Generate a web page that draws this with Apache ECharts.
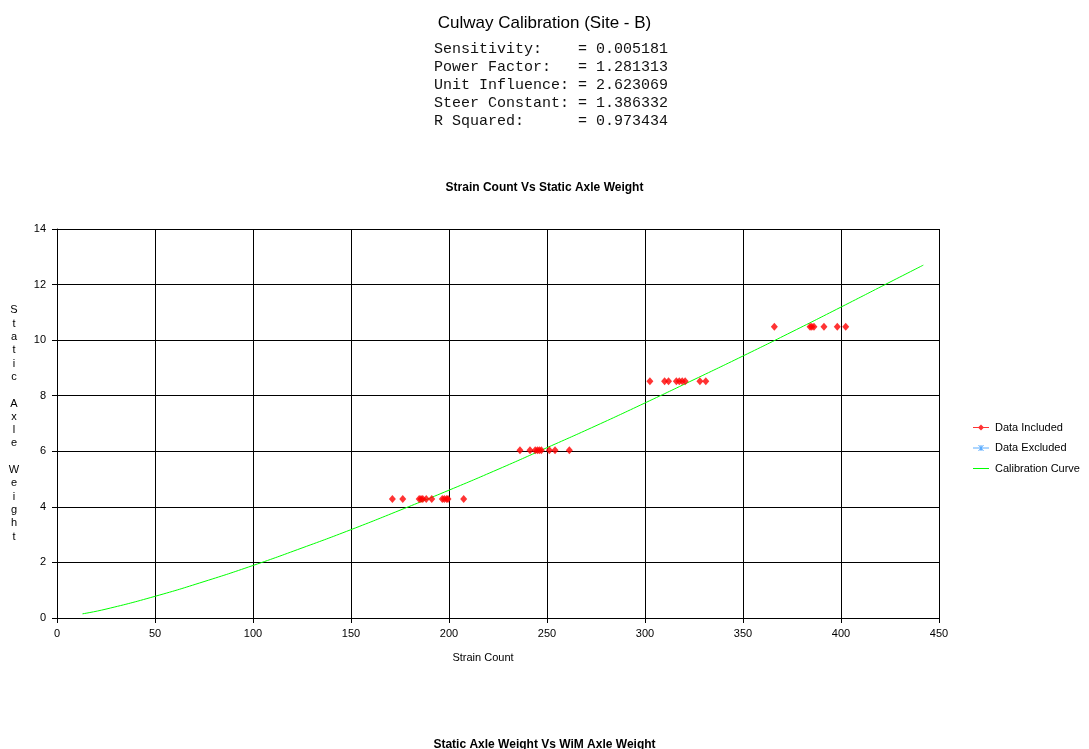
<!DOCTYPE html>
<html>
<head>
<meta charset="utf-8">
<title>Culway Calibration (Site - B)</title>
<script src="https://cdn.jsdelivr.net/npm/echarts@6/dist/echarts.min.js"></script>
<style>
  html, body { margin: 0; padding: 0; background: #ffffff; }
  #chart { width: 1089px; height: 749px; }
</style>
</head>
<body>
<div id="chart"></div>
<script>
// Calibration summary
const pageTitle = 'Culway Calibration (Site - B)';
const statLines = [
  'Sensitivity:    = 0.005181',
  'Power Factor:   = 1.281313',
  'Unit Influence: = 2.623069',
  'Steer Constant: = 1.386332',
  'R Squared:      = 0.973434'
];
const chartTitle = 'Strain Count Vs Static Axle Weight';
const nextChartTitle = 'Static Axle Weight Vs WiM Axle Weight';

// Axis ticks
const xTicks = [0, 50, 100, 150, 200, 250, 300, 350, 400, 450];
const yTicks = [0, 2, 4, 6, 8, 10, 12, 14];

// Included data: strain counts grouped by static axle weight
const weightLight = 4.28;
const countsLight = [171.1, 176.4, 184.8, 185.7, 186.6, 188.4, 191.2, 196.6, 197.6, 198.8, 199.5, 207.5];
const weightMid = 6.04;
const countsMid = [236.2, 241.3, 244.0, 245.1, 246.1, 247.1, 251.2, 254.1, 261.4];
const weightHeavy = 8.52;
const countsHeavy = [302.5, 310.0, 312.0, 316.0, 317.5, 319.0, 320.5, 328.0, 331.0];
const weightMax = 10.48;
const countsMax = [366.0, 384.2, 385.1, 386.2, 391.3, 398.1, 402.4];

// Excluded data (none)
const excludedCounts = [];
const excludedWeights = [];

// Calibration curve samples
const curveCounts = [13, 25, 50, 75, 100, 125, 150, 175, 200, 225, 250, 275, 300, 325, 350, 375, 400, 425, 442];
const curveWeights = [0.15, 0.32, 0.78, 1.31, 1.89, 2.52, 3.18, 3.88, 4.60, 5.35, 6.13, 6.92, 7.74, 8.58, 9.43, 10.30, 11.19, 12.09, 12.70];

const includedData = []
  .concat(countsLight.map(c => [c, weightLight]))
  .concat(countsMid.map(c => [c, weightMid]))
  .concat(countsHeavy.map(c => [c, weightHeavy]))
  .concat(countsMax.map(c => [c, weightMax]));
const excludedData = excludedCounts.map((c, i) => [c, excludedWeights[i]]);
const curveData = curveCounts.map((c, i) => [c, curveWeights[i]]);

const sans = 'Liberation Sans, Arial, sans-serif';
const mono = 'Liberation Mono, Courier New, monospace';

// Legend icons: a short line with the series marker on it
const iconIncluded = 'path://M0,2.5L16,2.5L16,3.5L0,3.5Z M8,0L11,3L8,6L5,3Z';
const iconExcluded = 'path://M0,2.5L16,2.5L16,3.5L0,3.5Z M5,0L6,0L11,6L10,6Z M10,0L11,0L6,6L5,6Z M7.5,0L8.5,0L8.5,6L7.5,6Z';
const iconCurve = 'path://M0,0L0,0Z M0,6L0,6Z M0,2.5L16,2.5L16,3.5L0,3.5Z';

const chart = echarts.init(document.getElementById('chart'), null, { renderer: 'canvas' });

chart.setOption({
  backgroundColor: '#ffffff',
  animation: false,
  title: [
    {
      text: pageTitle, left: 'center', top: 10,
      textStyle: { fontFamily: sans, fontSize: 17, fontWeight: 'normal', color: '#000' }
    },
    {
      text: statLines.join('\n'), left: 429, top: 35,
      textStyle: { fontFamily: mono, fontSize: 15, fontWeight: 'normal', color: '#111', lineHeight: 18 }
    },
    {
      text: chartTitle, left: 'center', top: 177,
      textStyle: { fontFamily: sans, fontSize: 12, fontWeight: 'bold', color: '#000' }
    },
    {
      text: nextChartTitle, left: 'center', top: 734,
      textStyle: { fontFamily: sans, fontSize: 12, fontWeight: 'bold', color: '#000' }
    }
  ],
  legend: {
    orient: 'vertical',
    left: 968,
    top: 417,
    itemWidth: 16,
    itemHeight: 6,
    itemGap: 9.5,
    symbolKeepAspect: true,
    textStyle: { fontFamily: sans, fontSize: 11, color: '#000', padding: [0, 0, 0, 1] },
    data: [
      { name: 'Data Included', icon: iconIncluded },
      { name: 'Data Excluded', icon: iconExcluded },
      { name: 'Calibration Curve', icon: iconCurve }
    ]
  },
  grid: { left: 57, right: 150, top: 229, bottom: 131, containLabel: false },
  xAxis: {
    type: 'value',
    min: xTicks[0],
    max: xTicks[xTicks.length - 1],
    interval: xTicks[1] - xTicks[0],
    name: 'Strain Count',
    nameLocation: 'middle',
    nameGap: 34,
    nameTextStyle: { fontFamily: sans, fontSize: 11, color: '#000', padding: [0, 30, 0, 0] },
    axisLine: { show: true, onZero: false, lineStyle: { color: '#000', width: 1 } },
    axisTick: { show: true, length: 5, lineStyle: { color: '#000' } },
    axisLabel: { fontFamily: sans, fontSize: 11, color: '#000', margin: 10 },
    splitLine: { show: true, lineStyle: { color: '#000', width: 1 } }
  },
  yAxis: {
    type: 'value',
    min: yTicks[0],
    max: yTicks[yTicks.length - 1],
    interval: yTicks[1] - yTicks[0],
    name: 'Static Axle Weight'.split('').map(ch => ch === ' ' ? '' : ch).join('\n'),
    nameLocation: 'middle',
    nameRotate: 0,
    nameGap: 43,
    nameTextStyle: { fontFamily: sans, fontSize: 11, color: '#000', lineHeight: 13.3, align: 'center', verticalAlign: 'middle' },
    axisLine: { show: true, onZero: false, lineStyle: { color: '#000', width: 1 } },
    axisTick: { show: true, length: 5, lineStyle: { color: '#000' } },
    axisLabel: { fontFamily: sans, fontSize: 11, color: '#000', margin: 11 },
    splitLine: { show: true, lineStyle: { color: '#000', width: 1 } }
  },
  series: [
    {
      name: 'Data Included',
      type: 'scatter',
      symbol: 'diamond',
      symbolSize: [7, 8],
      itemStyle: { color: '#ff0000' },
      data: includedData,
      z: 4
    },
    {
      name: 'Data Excluded',
      type: 'scatter',
      symbol: 'path://M0,0L1,0L6,6L5,6Z M5,0L6,0L1,6L0,6Z M2.5,0L3.5,0L3.5,6L2.5,6Z',
      symbolSize: 6,
      itemStyle: { color: '#3399ff' },
      data: excludedData,
      z: 4
    },
    {
      name: 'Calibration Curve',
      type: 'line',
      smooth: true,
      showSymbol: false,
      symbol: 'none',
      lineStyle: { color: '#00ff00', width: 1 },
      itemStyle: { color: '#00ff00' },
      data: curveData,
      z: 3
    }
  ]
});
</script>
</body>
</html>
